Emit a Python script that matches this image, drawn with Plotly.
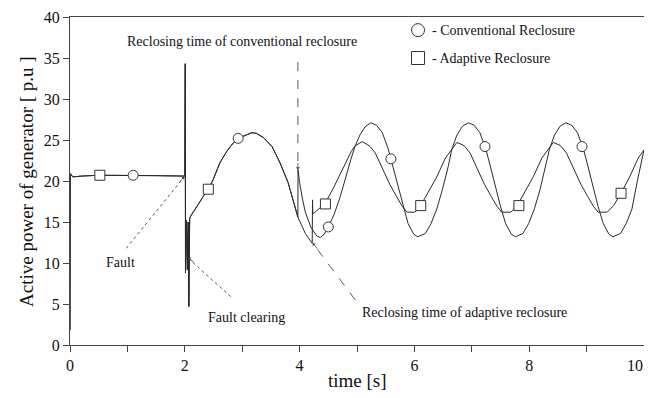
import plotly.graph_objects as go

# ---------------- data ----------------
# common part (pre-fault, fault, post-fault swing) shared by both cases
t_common = [0.0, 0.005, 0.05, 0.2, 0.5, 1.1, 1.5, 2.0, 2.008, 2.012, 2.03, 2.045,
            2.06, 2.07, 2.085, 2.1, 2.15, 2.23, 2.32, 2.41, 2.49, 2.61, 2.73, 2.84,
            2.93, 3.05, 3.17, 3.25, 3.37, 3.52, 3.66, 3.8, 3.92, 3.97]
p_common = [1.8, 20.9, 20.5, 20.6, 20.7, 20.7, 20.65, 20.6, 34.3, 8.8, 15.2, 9.2,
            15.0, 4.7, 15.4, 15.7, 16.3, 17.1, 18.1, 19.0, 20.1, 22.2, 23.6, 24.6,
            25.2, 25.6, 25.9, 25.8, 25.3, 24.2, 22.2, 19.8, 16.9, 15.6]

# conventional reclosure (after reclosing at ~3.97 s)
t_conv_after = [3.972, 4.0, 4.05, 4.1, 4.2, 4.3, 4.36, 4.43, 4.5, 4.6, 4.7, 4.82,
                4.9, 4.97, 5.05, 5.14, 5.24, 5.34, 5.44, 5.54, 5.59, 5.69, 5.8,
                5.89, 5.99, 6.06, 6.19, 6.29, 6.39, 6.49, 6.59, 6.65, 6.74, 6.84,
                6.94, 7.04, 7.14, 7.24, 7.29, 7.39, 7.5, 7.59, 7.69, 7.76, 7.89,
                7.99, 8.09, 8.19, 8.29, 8.35, 8.44, 8.54, 8.64, 8.74, 8.84, 8.94,
                8.99, 9.09, 9.2, 9.29, 9.39, 9.46, 9.59, 9.69, 9.79, 9.89, 10.0]
p_conv_after = [21.4, 19.8, 17.8, 16.2, 14.3, 13.3, 13.1, 13.5, 14.4, 15.9, 17.9, 21.0,
                22.8, 24.3, 25.6, 26.6, 27.1, 26.8, 25.9, 24.0, 22.7, 19.8, 16.9,
                14.8, 13.5, 13.2, 13.6, 14.8, 16.6, 19.0, 21.8, 23.8, 25.6, 26.7,
                27.1, 26.8, 25.9, 24.0, 22.7, 19.8, 16.9, 14.8, 13.5, 13.2, 13.6,
                14.8, 16.6, 19.0, 21.8, 23.8, 25.6, 26.7, 27.1, 26.8, 25.9, 24.0,
                22.7, 19.8, 16.9, 14.8, 13.5, 13.2, 13.6, 14.8, 16.6, 20.2, 23.8]

# adaptive reclosure (reclosing at ~4.22 s)
t_adap_after = [4.1, 4.22, 4.225, 4.23, 4.3, 4.44, 4.6, 4.7, 4.8, 4.9, 4.97, 5.09,
                5.19, 5.23, 5.32, 5.45, 5.57, 5.69, 5.79, 5.87, 6.01, 6.11, 6.24,
                6.39, 6.54, 6.65, 6.74, 6.84, 6.88, 6.97, 7.1, 7.22, 7.34, 7.44,
                7.52, 7.68, 7.79, 7.92, 8.07, 8.22, 8.33, 8.42, 8.52, 8.56, 8.65,
                8.78, 8.9, 9.02, 9.12, 9.2, 9.36, 9.47, 9.6, 9.75, 9.9, 10.0]
p_adap_after = [13.6, 12.4, 17.7, 16.0, 16.4, 17.2, 19.3, 20.8, 22.3, 23.6, 24.3, 24.8,
                24.4, 24.2, 23.4, 21.5, 19.6, 18.1, 16.9, 16.2, 16.2, 17.0, 18.6,
                20.5, 22.8, 23.9, 24.7, 24.4, 24.2, 23.4, 21.5, 19.6, 18.1, 16.9,
                16.2, 16.2, 17.0, 18.6, 20.5, 22.8, 23.9, 24.7, 24.4, 24.2, 23.4,
                21.5, 19.6, 18.1, 16.9, 16.2, 16.2, 17.0, 18.5, 20.5, 22.8, 23.8]

# marker positions
conv_mark_t = [1.1, 2.93, 4.5, 5.59, 7.23, 8.92]
conv_mark_p = [20.7, 25.2, 14.4, 22.7, 24.2, 24.2]
adap_mark_t = [0.52, 2.41, 4.45, 6.11, 7.82, 9.6]
adap_mark_p = [20.7, 19.0, 17.2, 17.0, 17.0, 18.5]

x_ticks = [0, 2, 4, 6, 8, 10]
x_tick_text = ["0", "2", "4", "6", "8", "10"]
y_ticks = [0, 5, 10, 15, 20, 25, 30, 35, 40]

legend_names = ["- Conventional Reclosure", "- Adaptive Reclosure"]

# ---------------- figure ----------------
FONT = "Liberation Serif"
LC = "#2a2a2a"
fig = go.Figure()

fig.add_trace(go.Scatter(x=t_common + t_conv_after, y=p_common + p_conv_after,
                         mode="lines", line=dict(color=LC, width=1)))
fig.add_trace(go.Scatter(x=t_common + t_adap_after, y=p_common + p_adap_after,
                         mode="lines", line=dict(color=LC, width=1)))
fig.add_trace(go.Scatter(x=conv_mark_t, y=conv_mark_p, mode="markers",
                         marker=dict(symbol="circle", size=10, color="white",
                                     line=dict(color="#333", width=1))))
fig.add_trace(go.Scatter(x=adap_mark_t, y=adap_mark_p, mode="markers",
                         marker=dict(symbol="square", size=10, color="white",
                                     line=dict(color="#333", width=1))))

ann = []
shapes = []

def txt(x, y, s, size=14, **kw):
    d = dict(x=x, y=y, text=s, showarrow=False,
             font=dict(family=FONT, size=size, color="#111"))
    d.update(kw)
    ann.append(d)

def dline(x0, y0, x1, y1, dash):
    shapes.append(dict(type="line", xref="x", yref="y", x0=x0, y0=y0, x1=x1, y1=y1,
                       line=dict(color="#444", width=0.9, dash=dash)))

def head(x, y, ax, ay):
    ann.append(dict(x=x, y=y, ax=ax, ay=ay, xref="x", yref="y", axref="pixel",
                    ayref="pixel", text="", showarrow=True, arrowhead=1,
                    arrowsize=0.9, arrowwidth=0.8, arrowcolor="#444"))

txt(2.99, 37.0, "Reclosing time of conventional reclosure")
dline(3.97, 34.5, 3.97, 21.6, "dash")
head(3.97, 21.4, 0, -8)

txt(0.88, 10.1, "Fault")
dline(0.98, 11.8, 1.99, 20.5, "dot")
head(1.99, 20.5, -6, 6)

txt(3.07, 3.3, "Fault clearing")
dline(2.8, 5.9, 2.07, 10.5, "dot")
head(2.06, 10.6, 7, 5)

txt(6.87, 4.0, "Reclosing time of adaptive reclosure")
dline(4.97, 5.5, 4.24, 12.3, "dash")
head(4.23, 12.4, 6, 7)

# legend (symbols + text)
shapes.append(dict(type="circle", xref="paper", yref="paper", xsizemode="pixel",
                   ysizemode="pixel", xanchor=0.6063, yanchor=0.96,
                   x0=-6.5, x1=6.5, y0=-6.5, y1=6.5,
                   line=dict(color="#333", width=1), fillcolor="white"))
shapes.append(dict(type="rect", xref="paper", yref="paper", xsizemode="pixel",
                   ysizemode="pixel", xanchor=0.6063, yanchor=0.875,
                   x0=-6.5, x1=6.5, y0=-6.5, y1=6.5,
                   line=dict(color="#333", width=1), fillcolor="white"))
txt(0.627, 0.96, legend_names[0], xref="paper", yref="paper", xanchor="left",
    yanchor="middle")
txt(0.627, 0.875, legend_names[1], xref="paper", yref="paper", xanchor="left",
    yanchor="middle")

# axis titles
txt(0.5, -0.107, "time [s]", size=19, xref="paper", yref="paper", yanchor="middle")
txt(-0.0767, 0.5, "Active power of generator [ p.u ]", size=19, xref="paper",
    yref="paper", textangle=-90, xanchor="center", yanchor="middle")

# last x tick label sits at the page edge: drawn right-aligned to its tick
txt(x_ticks[-1], 0, x_tick_text[-1], size=16, xref="x", yref="paper",
    xanchor="right", yanchor="middle", yshift=-20, xshift=1)

axis_common = dict(showgrid=False, zeroline=False, showline=True, linecolor="#444",
                   linewidth=1, mirror=True, ticks="outside", ticklen=6,
                   tickcolor="#444", tickwidth=1, automargin=False,
                   tickfont=dict(family=FONT, size=16, color="#111"))

# page body has an 8px margin: figure is sized/offset so the plot area lands
# at the reference's pixel position and the page does not scroll
fig.update_layout(
    width=644, height=382,
    margin=dict(l=62, r=8, t=9, b=45, autoexpand=False),
    plot_bgcolor="white", paper_bgcolor="white",
    showlegend=False,
    font=dict(family=FONT, color="#111"),
    annotations=ann, shapes=shapes,
    xaxis=dict(range=[0, 10], tickvals=x_ticks[:-1], ticktext=x_tick_text[:-1],
               minor=dict(dtick=1, tick0=0, ticks="outside", ticklen=6,
                          tickcolor="#444"), **axis_common),
    yaxis=dict(range=[0, 40], tickvals=y_ticks, **axis_common),
)
# tick mark for the last major tick (label drawn separately above)
fig.update_xaxes(minor_tickvals=None)

fig.write_html("out.html")
